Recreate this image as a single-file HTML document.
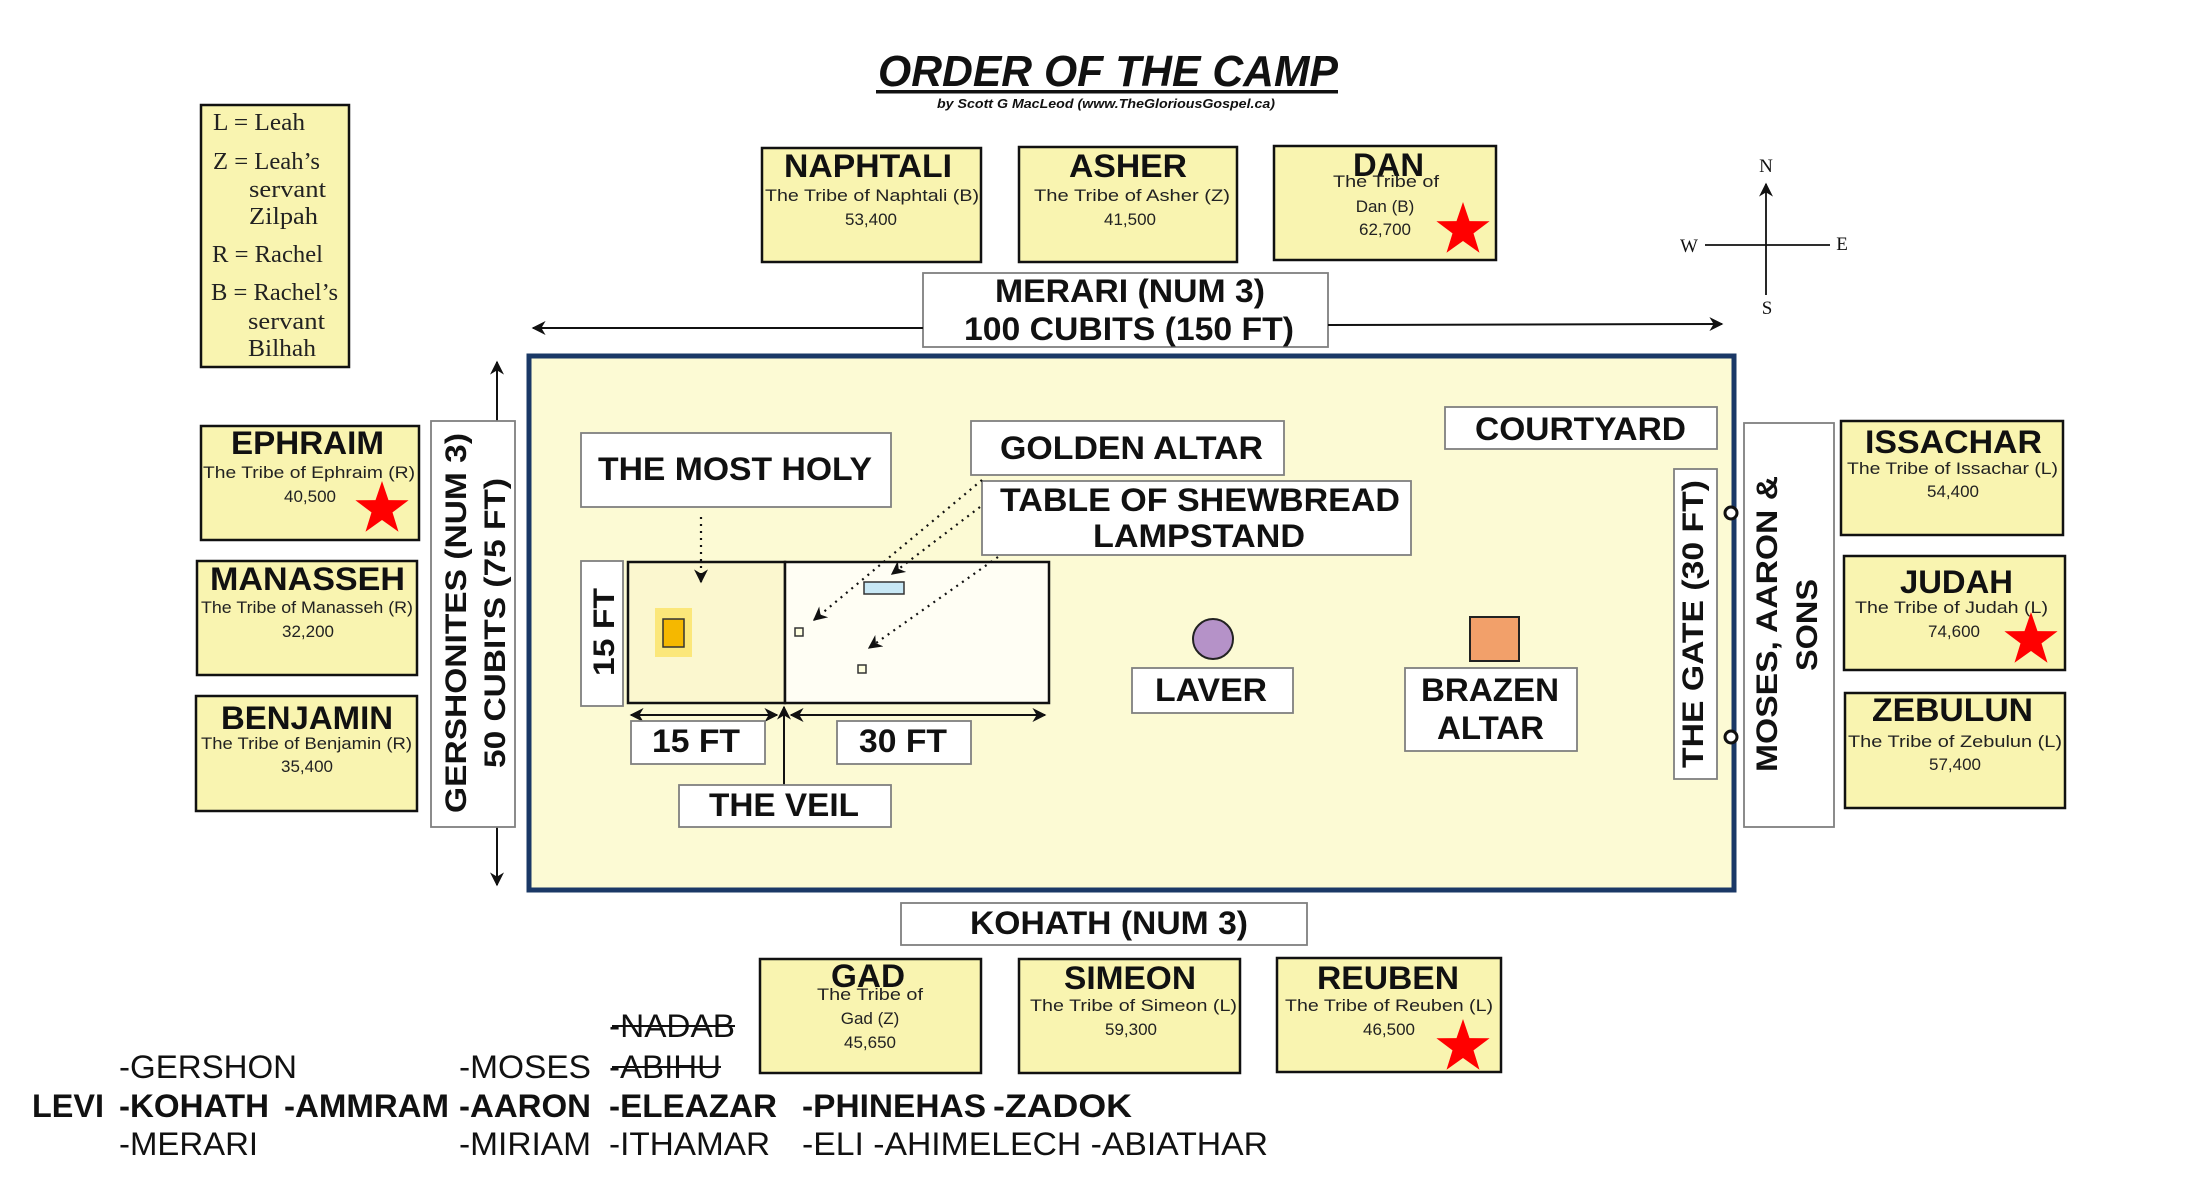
<!DOCTYPE html>
<html><head><meta charset="utf-8"><style>
html,body{margin:0;padding:0;background:#fff;}
svg{display:block;}
.nm{font-family:"Liberation Sans",sans-serif;font-weight:bold;font-size:32px;fill:#111;}
.sb{font-family:"Liberation Sans",sans-serif;font-size:17px;fill:#222;}
.lb{font-family:"Liberation Sans",sans-serif;font-weight:bold;font-size:32px;fill:#111;}
.vt{font-family:"Liberation Sans",sans-serif;font-weight:bold;font-size:30px;fill:#111;}
.sr{font-family:"Liberation Serif",serif;font-size:24px;fill:#222;}
.bt{font-family:"Liberation Sans",sans-serif;font-size:32px;fill:#111;}
.bb{font-family:"Liberation Sans",sans-serif;font-weight:bold;font-size:32px;fill:#111;}
.tb{fill:#f9f4b0;stroke:#111;stroke-width:2.5;}
.wb{fill:#fff;stroke:#808080;stroke-width:1.8;}
</style></head><body>
<svg width="2192" height="1186" viewBox="0 0 2192 1186" xmlns="http://www.w3.org/2000/svg">
<defs>
<marker id="ah" viewBox="0 0 10 10" refX="9" refY="5" markerWidth="14" markerHeight="14" markerUnits="userSpaceOnUse" orient="auto-start-reverse"><path d="M0,0 L10,5 L0,10 L3,5 z" fill="#111"/></marker>
<polygon id="star" points="0,-28 6.5,-8.9 26.6,-8.7 10.5,3.4 16.5,22.7 0,11 -16.5,22.7 -10.5,3.4 -26.6,-8.7 -6.5,-8.9" fill="#f00"/>
</defs>

<!-- Title -->
<text x="878" y="86" font-family="Liberation Sans" font-weight="bold" font-style="italic" font-size="44" textLength="460" lengthAdjust="spacingAndGlyphs" fill="#111">ORDER OF THE CAMP</text>
<rect x="876" y="90" width="462" height="3.5" fill="#111"/>
<text x="937" y="108" font-family="Liberation Sans" font-weight="bold" font-style="italic" font-size="13" textLength="338" lengthAdjust="spacingAndGlyphs" fill="#111">by Scott G MacLeod (www.TheGloriousGospel.ca)</text>

<!-- Legend -->
<rect class="tb" x="201" y="105" width="148" height="262"/>
<text class="sr" x="213" y="130" textLength="92" lengthAdjust="spacingAndGlyphs">L = Leah</text>
<text class="sr" x="213" y="169" textLength="107" lengthAdjust="spacingAndGlyphs">Z = Leah’s</text>
<text class="sr" x="249" y="197" textLength="77" lengthAdjust="spacingAndGlyphs">servant</text>
<text class="sr" x="249" y="224" textLength="69" lengthAdjust="spacingAndGlyphs">Zilpah</text>
<text class="sr" x="212" y="262" textLength="111" lengthAdjust="spacingAndGlyphs">R = Rachel</text>
<text class="sr" x="211" y="300" textLength="127" lengthAdjust="spacingAndGlyphs">B = Rachel’s</text>
<text class="sr" x="248" y="329" textLength="77" lengthAdjust="spacingAndGlyphs">servant</text>
<text class="sr" x="248" y="356" textLength="68" lengthAdjust="spacingAndGlyphs">Bilhah</text>

<!-- North tribes -->
<rect class="tb" x="762" y="148" width="219" height="114"/>
<text class="nm" x="784" y="177" textLength="168" lengthAdjust="spacingAndGlyphs">NAPHTALI</text>
<text class="sb" x="765" y="201" textLength="214" lengthAdjust="spacingAndGlyphs">The Tribe of Naphtali (B)</text>
<text class="sb" x="871" y="225" text-anchor="middle">53,400</text>

<rect class="tb" x="1019" y="147" width="218" height="115"/>
<text class="nm" x="1069" y="177" textLength="118" lengthAdjust="spacingAndGlyphs">ASHER</text>
<text class="sb" x="1034" y="201" textLength="196" lengthAdjust="spacingAndGlyphs">The Tribe of  Asher (Z)</text>
<text class="sb" x="1130" y="225" text-anchor="middle">41,500</text>

<rect class="tb" x="1274" y="146" width="222" height="114"/>
<text class="nm" x="1353" y="176" textLength="71" lengthAdjust="spacingAndGlyphs">DAN</text>
<text class="sb" x="1333" y="187" textLength="106" lengthAdjust="spacingAndGlyphs">The Tribe of</text>
<text class="sb" x="1385" y="212" text-anchor="middle">Dan (B)</text>
<text class="sb" x="1385" y="235" text-anchor="middle">62,700</text>
<use href="#star" x="1463" y="230"/>

<!-- Merari -->
<rect class="wb" x="923" y="273" width="405" height="74"/>
<text class="lb" x="995" y="302" textLength="270" lengthAdjust="spacingAndGlyphs">MERARI (NUM 3)</text>
<text class="lb" x="964" y="340" textLength="330" lengthAdjust="spacingAndGlyphs">100 CUBITS (150 FT)</text>
<line x1="923" y1="328" x2="533" y2="328" stroke="#111" stroke-width="2" marker-end="url(#ah)"/>
<line x1="1328" y1="325" x2="1722" y2="324" stroke="#111" stroke-width="2" marker-end="url(#ah)"/>

<!-- Compass -->
<line x1="1766" y1="295" x2="1766" y2="184" stroke="#111" stroke-width="1.8" marker-end="url(#ah)"/>
<line x1="1705" y1="245" x2="1830" y2="245" stroke="#111" stroke-width="1.8"/>
<text x="1766" y="172" font-family="Liberation Serif" font-size="19" text-anchor="middle" fill="#111">N</text>
<text x="1689" y="252" font-family="Liberation Serif" font-size="19" text-anchor="middle" fill="#111">W</text>
<text x="1842" y="250" font-family="Liberation Serif" font-size="19" text-anchor="middle" fill="#111">E</text>
<text x="1767" y="314" font-family="Liberation Serif" font-size="19" text-anchor="middle" fill="#111">S</text>

<!-- Courtyard -->
<rect x="529" y="356" width="1205" height="534" fill="#fcfad4" stroke="#1a3866" stroke-width="5"/>

<!-- West side -->
<line x1="497" y1="421" x2="497" y2="362" stroke="#111" stroke-width="2" marker-end="url(#ah)"/>
<line x1="497" y1="827" x2="497" y2="885" stroke="#111" stroke-width="2" marker-end="url(#ah)"/>
<rect class="wb" x="431" y="421" width="84" height="406"/>
<text class="vt" transform="translate(466,813) rotate(-90)" textLength="380" lengthAdjust="spacingAndGlyphs">GERSHONITES (NUM 3)</text>
<text class="vt" transform="translate(505,768) rotate(-90)" textLength="290" lengthAdjust="spacingAndGlyphs">50 CUBITS (75 FT)</text>

<rect class="tb" x="201" y="426" width="218" height="114"/>
<text class="nm" x="231" y="454" textLength="153" lengthAdjust="spacingAndGlyphs">EPHRAIM</text>
<text class="sb" x="203" y="478" textLength="212" lengthAdjust="spacingAndGlyphs">The Tribe of Ephraim (R)</text>
<text class="sb" x="310" y="502" text-anchor="middle">40,500</text>
<use href="#star" x="382" y="509"/>

<rect class="tb" x="197" y="561" width="220" height="114"/>
<text class="nm" x="210" y="590" textLength="195" lengthAdjust="spacingAndGlyphs">MANASSEH</text>
<text class="sb" x="201" y="613" textLength="212" lengthAdjust="spacingAndGlyphs">The Tribe of Manasseh (R)</text>
<text class="sb" x="308" y="637" text-anchor="middle">32,200</text>

<rect class="tb" x="196" y="696" width="221" height="115"/>
<text class="nm" x="221" y="729" textLength="172" lengthAdjust="spacingAndGlyphs">BENJAMIN</text>
<text class="sb" x="201" y="749" textLength="211" lengthAdjust="spacingAndGlyphs">The Tribe of Benjamin (R)</text>
<text class="sb" x="307" y="772" text-anchor="middle">35,400</text>

<!-- Inside labels -->
<rect class="wb" x="581" y="433" width="310" height="74"/>
<text class="lb" x="598" y="480" textLength="274" lengthAdjust="spacingAndGlyphs">THE MOST HOLY</text>
<rect class="wb" x="971" y="421" width="313" height="54"/>
<text class="lb" x="1000" y="459" textLength="263" lengthAdjust="spacingAndGlyphs">GOLDEN ALTAR</text>
<rect class="wb" x="982" y="481" width="429" height="74"/>
<text class="lb" x="1000" y="511" textLength="400" lengthAdjust="spacingAndGlyphs">TABLE OF SHEWBREAD</text>
<text class="lb" x="1093" y="547" textLength="212" lengthAdjust="spacingAndGlyphs">LAMPSTAND</text>
<rect class="wb" x="1445" y="407" width="272" height="42"/>
<text class="lb" x="1475" y="440" textLength="211" lengthAdjust="spacingAndGlyphs">COURTYARD</text>

<!-- Tabernacle -->
<rect x="628" y="562" width="157" height="141" fill="#fbf7cf" stroke="#111" stroke-width="2.5"/>
<rect x="785" y="562" width="264" height="141" fill="#fffef4" stroke="#111" stroke-width="2.5"/>
<rect x="655" y="608" width="37" height="49" fill="#fbe77a"/>
<rect x="663" y="619" width="21" height="28" fill="#f5b800" stroke="#333" stroke-width="1.5"/>
<rect x="864" y="582" width="40" height="12" fill="#c8e8f5" stroke="#333" stroke-width="1.5"/>
<rect x="795" y="628" width="8" height="8" fill="#ffffe0" stroke="#333" stroke-width="1.5"/>
<rect x="858" y="665" width="8" height="8" fill="#ffffe0" stroke="#333" stroke-width="1.5"/>
<rect class="wb" x="581" y="561" width="42" height="145"/>
<text class="vt" transform="translate(614,676) rotate(-90)" textLength="88" lengthAdjust="spacingAndGlyphs">15 FT</text>

<!-- dotted arrows -->
<line x1="701" y1="517" x2="701" y2="582" stroke="#111" stroke-width="2.2" stroke-dasharray="2,5" marker-end="url(#ah)"/>
<line x1="982" y1="480" x2="814" y2="620" stroke="#111" stroke-width="2.2" stroke-dasharray="2,5" marker-end="url(#ah)"/>
<line x1="980" y1="507" x2="892" y2="574" stroke="#111" stroke-width="2.2" stroke-dasharray="2,5" marker-end="url(#ah)"/>
<line x1="998" y1="557" x2="869" y2="648" stroke="#111" stroke-width="2.2" stroke-dasharray="2,5" marker-end="url(#ah)"/>

<!-- dimensions -->
<line x1="631" y1="715" x2="777" y2="715" stroke="#111" stroke-width="2" marker-start="url(#ah)" marker-end="url(#ah)"/>
<line x1="791" y1="715" x2="1045" y2="715" stroke="#111" stroke-width="2" marker-start="url(#ah)" marker-end="url(#ah)"/>
<line x1="784" y1="785" x2="784" y2="707" stroke="#111" stroke-width="2" marker-end="url(#ah)"/>
<rect class="wb" x="631" y="721" width="134" height="43"/>
<text class="lb" x="652" y="752" textLength="88" lengthAdjust="spacingAndGlyphs">15 FT</text>
<rect class="wb" x="837" y="721" width="134" height="43"/>
<text class="lb" x="859" y="752" textLength="88" lengthAdjust="spacingAndGlyphs">30 FT</text>
<rect class="wb" x="679" y="785" width="212" height="42"/>
<text class="lb" x="709" y="816" textLength="150" lengthAdjust="spacingAndGlyphs">THE VEIL</text>

<!-- Laver / Brazen -->
<ellipse cx="1213" cy="639" rx="20" ry="20" fill="#b592c8" stroke="#222" stroke-width="2"/>
<rect class="wb" x="1132" y="668" width="161" height="45"/>
<text class="lb" x="1155" y="701" textLength="112" lengthAdjust="spacingAndGlyphs">LAVER</text>
<rect x="1470" y="617" width="49" height="44" fill="#f2a06a" stroke="#222" stroke-width="2"/>
<rect class="wb" x="1405" y="668" width="172" height="83"/>
<text class="lb" x="1421" y="701" textLength="138" lengthAdjust="spacingAndGlyphs">BRAZEN</text>
<text class="lb" x="1437" y="739" textLength="107" lengthAdjust="spacingAndGlyphs">ALTAR</text>

<!-- Gate -->
<rect class="wb" x="1674" y="469" width="43" height="310"/>
<text class="vt" transform="translate(1703,768) rotate(-90)" textLength="288" lengthAdjust="spacingAndGlyphs">THE GATE (30 FT)</text>
<circle cx="1731" cy="513" r="6" fill="#fff" stroke="#111" stroke-width="3"/>
<circle cx="1731" cy="737" r="6" fill="#fff" stroke="#111" stroke-width="3"/>
<rect class="wb" x="1744" y="423" width="90" height="404"/>
<text class="vt" transform="translate(1777,772) rotate(-90)" textLength="296" lengthAdjust="spacingAndGlyphs">MOSES, AARON &amp;</text>
<text class="vt" transform="translate(1817,671) rotate(-90)" textLength="92" lengthAdjust="spacingAndGlyphs">SONS</text>

<!-- East tribes -->
<rect class="tb" x="1841" y="421" width="222" height="114"/>
<text class="nm" x="1865" y="453" textLength="177" lengthAdjust="spacingAndGlyphs">ISSACHAR</text>
<text class="sb" x="1847" y="474" textLength="211" lengthAdjust="spacingAndGlyphs">The Tribe of Issachar (L)</text>
<text class="sb" x="1953" y="497" text-anchor="middle">54,400</text>

<rect class="tb" x="1844" y="556" width="221" height="114"/>
<text class="nm" x="1900" y="593" textLength="113" lengthAdjust="spacingAndGlyphs">JUDAH</text>
<text class="sb" x="1855" y="613" textLength="193" lengthAdjust="spacingAndGlyphs">The Tribe of Judah (L)</text>
<text class="sb" x="1954" y="637" text-anchor="middle">74,600</text>
<use href="#star" x="2031" y="640"/>

<rect class="tb" x="1845" y="693" width="220" height="115"/>
<text class="nm" x="1872" y="721" textLength="161" lengthAdjust="spacingAndGlyphs">ZEBULUN</text>
<text class="sb" x="1848" y="747" textLength="214" lengthAdjust="spacingAndGlyphs">The Tribe of Zebulun (L)</text>
<text class="sb" x="1955" y="770" text-anchor="middle">57,400</text>

<!-- Kohath -->
<rect class="wb" x="901" y="903" width="406" height="42"/>
<text class="lb" x="970" y="934" textLength="278" lengthAdjust="spacingAndGlyphs">KOHATH (NUM 3)</text>

<!-- South tribes -->
<rect class="tb" x="760" y="959" width="221" height="114"/>
<text class="nm" x="831" y="987" textLength="74" lengthAdjust="spacingAndGlyphs">GAD</text>
<text class="sb" x="817" y="1000" textLength="106" lengthAdjust="spacingAndGlyphs">The Tribe of</text>
<text class="sb" x="870" y="1024" text-anchor="middle">Gad (Z)</text>
<text class="sb" x="870" y="1048" text-anchor="middle">45,650</text>

<rect class="tb" x="1019" y="959" width="221" height="114"/>
<text class="nm" x="1064" y="989" textLength="132" lengthAdjust="spacingAndGlyphs">SIMEON</text>
<text class="sb" x="1030" y="1011" textLength="207" lengthAdjust="spacingAndGlyphs">The Tribe of Simeon (L)</text>
<text class="sb" x="1131" y="1035" text-anchor="middle">59,300</text>

<rect class="tb" x="1277" y="958" width="224" height="114"/>
<text class="nm" x="1317" y="989" textLength="142" lengthAdjust="spacingAndGlyphs">REUBEN</text>
<text class="sb" x="1285" y="1011" textLength="208" lengthAdjust="spacingAndGlyphs">The Tribe of Reuben (L)</text>
<text class="sb" x="1389" y="1035" text-anchor="middle">46,500</text>
<use href="#star" x="1463" y="1047"/>

<!-- Genealogy -->
<text class="bt" x="609" y="1037" textLength="126" lengthAdjust="spacingAndGlyphs">-NADAB</text>
<line x1="612" y1="1026" x2="735" y2="1026" stroke="#111" stroke-width="2"/>
<text class="bt" x="119" y="1078" textLength="178" lengthAdjust="spacingAndGlyphs">-GERSHON</text>
<text class="bt" x="459" y="1078" textLength="132" lengthAdjust="spacingAndGlyphs">-MOSES</text>
<text class="bt" x="609" y="1078" textLength="112" lengthAdjust="spacingAndGlyphs">-ABIHU</text>
<line x1="612" y1="1067" x2="721" y2="1067" stroke="#111" stroke-width="2"/>

<text class="bb" x="32" y="1117" textLength="72" lengthAdjust="spacingAndGlyphs">LEVI</text>
<text class="bb" x="119" y="1117" textLength="150" lengthAdjust="spacingAndGlyphs">-KOHATH</text>
<text class="bb" x="284" y="1117" textLength="165" lengthAdjust="spacingAndGlyphs">-AMMRAM</text>
<text class="bb" x="459" y="1117" textLength="132" lengthAdjust="spacingAndGlyphs">-AARON</text>
<text class="bb" x="609" y="1117" textLength="168" lengthAdjust="spacingAndGlyphs">-ELEAZAR</text>
<text class="bb" x="802" y="1117" textLength="184" lengthAdjust="spacingAndGlyphs">-PHINEHAS</text>
<text class="bb" x="993" y="1117" textLength="139" lengthAdjust="spacingAndGlyphs">-ZADOK</text>

<text class="bt" x="119" y="1155" textLength="139" lengthAdjust="spacingAndGlyphs">-MERARI</text>
<text class="bt" x="459" y="1155" textLength="132" lengthAdjust="spacingAndGlyphs">-MIRIAM</text>
<text class="bt" x="609" y="1155" textLength="161" lengthAdjust="spacingAndGlyphs">-ITHAMAR</text>
<text class="bt" x="802" y="1155" textLength="466" lengthAdjust="spacingAndGlyphs">-ELI -AHIMELECH -ABIATHAR</text>
</svg>
</body></html>
